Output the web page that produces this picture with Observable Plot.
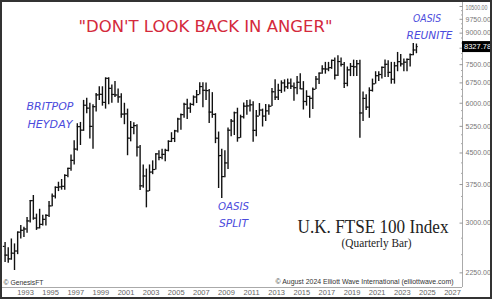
<!DOCTYPE html>
<html>
<head>
<meta charset="utf-8">
<script src="https://cdn.jsdelivr.net/npm/d3@7"></script>
<script src="https://cdn.jsdelivr.net/npm/@observablehq/plot@0.6"></script>
<style>
  body { margin: 0; background: white; }
  #chart svg { display: block; outline: 2px solid #333; outline-offset: -2px; }
</style>
</head>
<body>
<div id="chart"></div>
<script>
// Quarterly bars, Q4 1991 .. Q3 2024
const quarters = [
  "1991Q4",
  "1992Q1","1992Q2","1992Q3","1992Q4","1993Q1","1993Q2","1993Q3","1993Q4",
  "1994Q1","1994Q2","1994Q3","1994Q4","1995Q1","1995Q2","1995Q3","1995Q4",
  "1996Q1","1996Q2","1996Q3","1996Q4","1997Q1","1997Q2","1997Q3","1997Q4",
  "1998Q1","1998Q2","1998Q3","1998Q4","1999Q1","1999Q2","1999Q3","1999Q4",
  "2000Q1","2000Q2","2000Q3","2000Q4","2001Q1","2001Q2","2001Q3","2001Q4",
  "2002Q1","2002Q2","2002Q3","2002Q4","2003Q1","2003Q2","2003Q3","2003Q4",
  "2004Q1","2004Q2","2004Q3","2004Q4","2005Q1","2005Q2","2005Q3","2005Q4",
  "2006Q1","2006Q2","2006Q3","2006Q4","2007Q1","2007Q2","2007Q3","2007Q4",
  "2008Q1","2008Q2","2008Q3","2008Q4","2009Q1","2009Q2","2009Q3","2009Q4",
  "2010Q1","2010Q2","2010Q3","2010Q4","2011Q1","2011Q2","2011Q3","2011Q4",
  "2012Q1","2012Q2","2012Q3","2012Q4","2013Q1","2013Q2","2013Q3","2013Q4",
  "2014Q1","2014Q2","2014Q3","2014Q4","2015Q1","2015Q2","2015Q3","2015Q4",
  "2016Q1","2016Q2","2016Q3","2016Q4","2017Q1","2017Q2","2017Q3","2017Q4",
  "2018Q1","2018Q2","2018Q3","2018Q4","2019Q1","2019Q2","2019Q3","2019Q4",
  "2020Q1","2020Q2","2020Q3","2020Q4","2021Q1","2021Q2","2021Q3","2021Q4",
  "2022Q1","2022Q2","2022Q3","2022Q4","2023Q1","2023Q2","2023Q3","2023Q4",
  "2024Q1","2024Q2","2024Q3"
];
const opens = [
  2622,
  2493,2440,2521,2553, 2847,2878,2900,3038,
  3418,3086,2919,2978, 3066,3137,3314,3508,
  3689,3699,3711,3953, 4118,4312,4604,5244,
  5136,5932,5833,5249, 5883,6296,6318,6030,
  6930,6540,6313,6294, 6222,5633,5643,4903,
  5217,5272,4656,3722, 3940,3613,4031,4091,
  4477,4386,4464,4571, 4814,4894,5113,5478,
  5619,5965,5833,5961, 6221,6308,6608,6467,
  6457,5702,5626,4902, 4434,3926,4249,5134,
  5413,5680,4917,5549, 5900,5909,5946,5128,
  5572,5768,5571,5742, 5898,6412,6215,6462,
  6749,6598,6744,6623, 6566,6773,6521,6062,
  6242,6175,6504,6899, 7143,7323,7313,7373,
  7688,7057,7637,7510, 6728,7279,7426,7408,
  7542,5672,6170,5866, 6461,6714,7037,7086,
  7385,7516,7169,6894, 7452,7632,7532,7608,
  7733,7953,8164
];
const highs = [
  2680,
  2600,2737,2660,2850, 2957,2930,3100,3418,
  3520,3160,3250,3140, 3150,3400,3550,3700,
  3800,3860,3970,4120, 4450,4830,5330,5370,
  6100,6180,6000,5950, 6350,6600,6600,6950,
  6950,6670,6800,6520, 6335,6000,5800,5400,
  5360,5300,4700,4200, 4100,4200,4300,4480,
  4560,4600,4600,4830, 5060,5130,5500,5640,
  6000,6140,6000,6260, 6460,6760,6760,6750,
  6500,6380,5650,5080, 4600,4560,5200,5460,
  5700,5830,5600,6010, 6100,6110,6050,5750,
  5990,5800,5960,5950, 6530,6875,6700,6830,
  6870,6900,6900,6750, 7000,7120,6800,6450,
  6250,6550,7000,7150, 7450,7600,7600,7700,
  7800,7900,7800,7600, 7400,7550,7700,7680,
  7690,6400,6300,6560, 6900,7200,7200,7400,
  7700,7670,7600,7600, 8050,7950,7750,7750,
  7980,8480,8450
];
const lows = [
  2390,
  2380,2420,2281,2500, 2737,2760,2830,3000,
  3050,2876,2900,2950, 2950,3100,3300,3450,
  3600,3630,3630,3900, 4050,4200,4550,4700,
  5100,5650,4880,4600, 5700,6100,5900,5800,
  5950,6000,6200,6000, 5500,5300,4430,4800,
  5000,4400,3625,3670, 3277,3600,3970,4080,
  4300,4330,4280,4530, 4780,4780,5050,5130,
  5500,5460,5660,5900, 5990,6300,5850,6100,
  5340,5500,4750,3665, 3460,3900,4090,4940,
  4980,4790,4900,5480, 5600,5700,4790,4940,
  5570,5230,5400,5600, 5890,6100,6100,6350,
  6400,6500,6500,6070, 6300,6500,5770,5900,
  5500,5790,6500,6690, 7100,7100,7200,7300,
  6860,7000,7400,6530, 6600,7000,7000,7000,
  4900,5400,5750,5500, 6400,6700,6800,6900,
  6960,6960,6700,6700, 7200,7400,7200,7200,
  7400,7900,7990
];
const closes = [
  2493,
  2440,2521,2553,2847, 2878,2900,3038,3418,
  3086,2919,2978,3066, 3137,3314,3508,3689,
  3699,3711,3953,4118, 4312,4604,5244,5136,
  5932,5833,5249,5883, 6296,6318,6030,6930,
  6540,6313,6294,6222, 5633,5643,4903,5217,
  5272,4656,3722,3940, 3613,4031,4091,4477,
  4386,4464,4571,4814, 4894,5113,5478,5619,
  5965,5833,5961,6221, 6308,6608,6467,6457,
  5702,5626,4902,4434, 3926,4249,5134,5413,
  5680,4917,5549,5900, 5909,5946,5128,5572,
  5768,5571,5742,5898, 6412,6215,6462,6749,
  6598,6744,6623,6566, 6773,6521,6062,6242,
  6175,6504,6899,7143, 7323,7313,7373,7688,
  7057,7637,7510,6728, 7279,7426,7408,7542,
  5672,6170,5866,6461, 6714,7037,7086,7385,
  7516,7169,6894,7452, 7632,7532,7608,7733,
  7953,8164,8327.78
];
const lastPrice = 8327.78;
const yMajorTicks = [2250,3000,3750,4500,5250,6000,6750,7500,8250,9000,9750,10500];
const yMinorTicks = [2500,2750,3250,3500,4000,4250,4750,5000,5500,5750,6250,6500,7000,7250,7750,8000,8500,8750,9250,9500,10000,10250];
const xTickYears = d3.range(1993, 2028, 2);

const bars = quarters.map((q, i) => ({
  t: +q.slice(0, 4) + (+q.slice(5) - 1) / 4 + 0.125,
  open: opens[i], high: highs[i], low: lows[i], close: closes[i]
}));

const xDomain = [1991.669, 2028.293];
const yDomain = [2067.3, 10745];
const red = "#d42a3c", blue = "#4b4bdc";
const comic = "'DejaVu Sans', sans-serif";

const chart = Plot.plot({
  width: 492, height: 299,
  marginLeft: 2, marginRight: 30, marginTop: 2, marginBottom: 12,
  x: {domain: xDomain},
  y: {type: "log", domain: yDomain},
  style: {background: "white", fontFamily: "'Liberation Sans', Arial, sans-serif"},
  marks: [
    Plot.ruleY([yDomain[0]], {stroke: "#aaa"}),
    Plot.ruleX([xDomain[1]], {stroke: "#aaa"}),
    Plot.axisX({ticks: xTickYears.map(y => y + 0.5), tickSize: 0, tickPadding: 2,
      tickFormat: d => String(d - 0.5), fontSize: 7.5, color: "#666", label: null}),
    Plot.axisY({anchor: "right", ticks: yMajorTicks.filter(v => v !== 8250), tickSize: 0, tickPadding: 3,
      tickFormat: d => d.toFixed(2), fontSize: 7, color: "#777", label: null}),
    Plot.axisY({anchor: "right", ticks: yMajorTicks, tickSize: -3.5, tickFormat: () => "", color: "#999", label: null}),
    Plot.axisY({anchor: "right", ticks: yMinorTicks, tickSize: -2, tickFormat: () => "", color: "#aaa", label: null}),
    // OHLC bars
    Plot.ruleX(bars, {x: "t", y1: "low", y2: "high", stroke: "#111", strokeWidth: 1.4}),
    Plot.ruleY(bars, {y: "open", x1: d => d.t - 0.14, x2: "t", stroke: "#111", strokeWidth: 1.2}),
    Plot.ruleY(bars, {y: "close", x1: "t", x2: d => d.t + 0.14, stroke: "#111", strokeWidth: 1.2}),
    // last price box
    Plot.ruleY([lastPrice], {x1: xDomain[1], x2: xDomain[1] + 2.3, stroke: "#000", strokeWidth: 11}),
    Plot.text([lastPrice], {x: xDomain[1], y: d => d, text: d => d.toFixed(2), textAnchor: "start", dx: 1.5,
      fill: "white", fontSize: 7.5}),
    // annotations
    Plot.text(["\"DON'T LOOK BACK IN ANGER\""], {x: 2007.83, y: 9326, fill: red, fontSize: 16.5, fontFamily: comic}),
    Plot.text(["BRITPOP"], {x: 1995.45, y: 5885, fill: blue, fontSize: 10, fontFamily: comic, fontStyle: "italic"}),
    Plot.text(["HEYDAY"], {x: 1995.45, y: 5303, fill: blue, fontSize: 10, fontFamily: comic, fontStyle: "italic"}),
    Plot.text(["OASIS"], {x: 2010.06, y: 3302, fill: blue, fontSize: 10, fontFamily: comic, fontStyle: "italic"}),
    Plot.text(["SPLIT"], {x: 2010.06, y: 2994, fill: blue, fontSize: 10, fontFamily: comic, fontStyle: "italic"}),
    Plot.text(["OASIS "], {x: 2025.59, y: 9797, fill: blue, fontSize: 10, fontFamily: comic, fontStyle: "italic"}),
    Plot.text(["REUNITE"], {x: 2025.67, y: 8880, fill: blue, fontSize: 10, fontFamily: comic, fontStyle: "italic"}),
    Plot.text(["U.K. FTSE 100 Index"], {x: 2021.17, y: 2924, fill: "#222", fontSize: 18.5, fontFamily: "'Liberation Serif', 'Times New Roman', serif"}),
    Plot.text(["(Quarterly Bar)"], {x: 2021.45, y: 2665, fill: "#222", fontSize: 11.5, fontFamily: "'Liberation Serif', 'Times New Roman', serif"}),
    Plot.text(["© August 2024 Elliott Wave International (elliottwave.com)"], {x: 2020.49, y: 2140, fill: "#333", fontSize: 6.8}),
    Plot.text(["© GenesisFT"], {x: 1991.75, y: 2121, textAnchor: "start", fill: "#333", fontSize: 6.8})
  ]
});

const lengths = {
  "\"DON'T LOOK BACK IN ANGER\"": 254,
  "BRITPOP": 47, "HEYDAY": 45, "OASIS": 31, "SPLIT": 29, "OASIS ": 31, "REUNITE": 46,
  "U.K. FTSE 100 Index": 151, "(Quarterly Bar)": 70,
  "© August 2024 Elliott Wave International (elliottwave.com)": 178, "© GenesisFT": 40,
  "10500.00": 22
};
chart.querySelectorAll("text").forEach(t => {
  const L = lengths[t.textContent.trim()] ?? lengths[t.textContent];
  if (L) { t.setAttribute("textLength", L); t.setAttribute("lengthAdjust", "spacingAndGlyphs"); }
  if (t.textContent === "10500.00") {
    t.setAttribute("font-size", 6.5);
    t.setAttribute("transform", (t.getAttribute("transform") || "") + " translate(0,1.2)");
  }
});
document.getElementById("chart").appendChild(chart);
</script>
</body>
</html>
